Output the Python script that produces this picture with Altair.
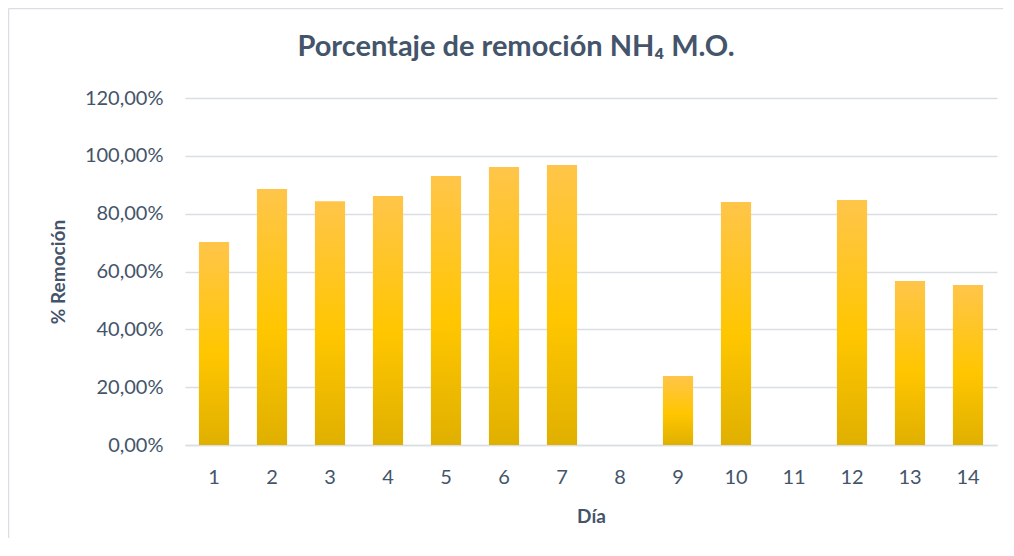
import altair as alt
import pandas as pd

dias = [str(d) for d in range(1, 15)]
remocion = [0.702, 0.885, 0.843, 0.861, 0.930, 0.961, 0.968, 0.0, 0.239, 0.840, 0.0, 0.847, 0.567, 0.553]
y_ticks = [0, 0.2, 0.4, 0.6, 0.8, 1.0, 1.2]
titulo = "Porcentaje de remoción NH₄ M.O."

df = pd.DataFrame({"Día": dias, "Remoción": remocion})

TXT = "#44546A"
GRID = "#D9DDE4"
FONT = "Lato"

grad = alt.LinearGradient(
    gradient="linear",
    stops=[
        alt.GradientStop(color="#FFC54A", offset=0),
        alt.GradientStop(color="#FFC600", offset=0.55),
        alt.GradientStop(color="#E0B000", offset=1),
    ],
    x1=0, x2=0, y1=0, y2=1,
)

bars = alt.Chart(df).mark_bar(color=grad).encode(
    x=alt.X("Día:N", sort=dias,
            scale=alt.Scale(paddingInner=0.48, paddingOuter=0.24),
            axis=alt.Axis(title="Día", labelAngle=0, ticks=False, domain=True,
                          domainColor=GRID, domainWidth=1.5, labelPadding=22,
                          titlePadding=20)),
    y=alt.Y("Remoción:Q",
            scale=alt.Scale(domain=[0, 1.2], nice=False),
            axis=alt.Axis(title="% Remoción", values=y_ticks,
                          labelExpr="replace(format(datum.value, '.2%'), '.', ',')",
                          domain=False, ticks=False, gridColor=GRID, gridWidth=1.5,
                          labelPadding=22, titlePadding=16)),
)

one = pd.DataFrame({"t": [titulo]})
left_edge = alt.Chart(one).mark_rule(color=GRID, strokeWidth=1.5).encode(
    x=alt.value(-176.5), y=alt.value(-89.5), y2=alt.value(440),
)
top_edge = alt.Chart(one).mark_rule(color=GRID, strokeWidth=1.5).encode(
    x=alt.value(-176.5), x2=alt.value(818), y=alt.value(-89.5),
)
title = alt.Chart(one).mark_text(
    font=FONT, fontSize=29, fontWeight="bold", color=TXT, align="center", baseline="middle"
).encode(text="t:N", x=alt.value(331), y=alt.value(-51))

chart = alt.layer(left_edge, top_edge, title, bars).properties(
    width=812, height=347,
    autosize=alt.AutoSizeParams(type="none"),
    padding={"left": 177, "top": 90, "right": 9, "bottom": 98},
).configure_view(stroke=None).configure_axis(
    labelFont=FONT, titleFont=FONT, labelColor=TXT, titleColor=TXT,
    labelFontSize=20, titleFontSize=19, titleFontWeight="bold",
)

chart.save("out.html", embed_options={"renderer": "svg", "actions": False})
